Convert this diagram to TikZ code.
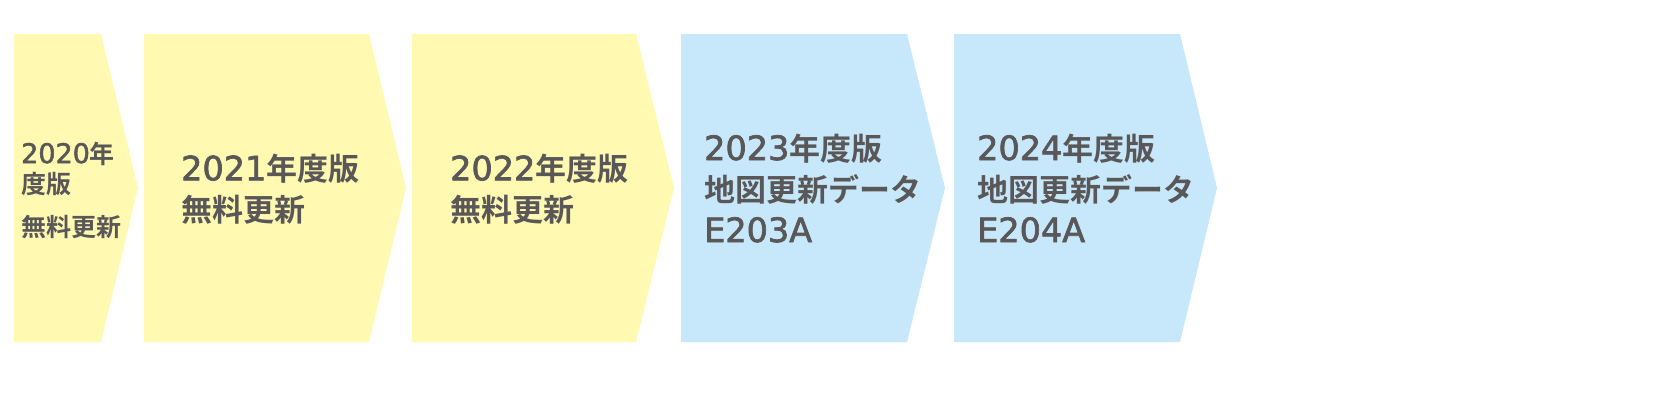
\documentclass[tikz,border=0pt]{standalone}
\usepackage{fontspec}
\setmainfont{DejaVu Sans}[Scale=1.08,UprightFeatures={FakeBold=2}]
\newfontfamily\jpfont{Noto Sans CJK JP}[UprightFont=* Bold]
\definecolor{stepyellow}{RGB}{255,249,178}
\definecolor{stepblue}{RGB}{199,232,250}
\definecolor{steptext}{RGB}{89,87,87}
\tikzset{
	yellowarrow/.style={fill=stepyellow},
	bluearrow/.style={fill=stepblue},
	steplabel/.style={anchor=west,align=left,inner sep=0pt,text=steptext,font=\fontsize{31}{41}\selectfont},
	smalllabel/.style={steplabel,font=\fontsize{25}{30}\selectfont}
}

\begin{document}
\begin{tikzpicture}[x=1pt,y=-1pt]
						\useasboundingbox (0,0) rectangle (1668,400);
						% yellow years
						\fill[yellowarrow] (14,34)--(101,34)--(138,188)--(101,342)--(14,342)--cycle;
						\fill[yellowarrow] (144,34)--(369,34)--(406,188)--(369,342)--(144,342)--cycle;
						\fill[yellowarrow] (412,34)--(636,34)--(674,188)--(636,342)--(412,342)--cycle;
						% blue years
						\fill[bluearrow] (681,34)--(907,34)--(945,188)--(907,342)--(681,342)--cycle;
						\fill[bluearrow] (954,34)--(1180,34)--(1217,188)--(1180,342)--(954,342)--cycle;
						% labels
						\node[smalllabel] (y2020) at (21,190) {2020{\jpfont 年}\\{\jpfont 度版}\\[13pt]{\jpfont 無料更新}};
						\node[steplabel] (y2021) at (181,189) {2021{\jpfont 年度版}\\{\jpfont 無料更新}};
						\node[steplabel] (y2022) at (450,189) {2022{\jpfont 年度版}\\{\jpfont 無料更新}};
						\node[steplabel] (y2023) at (704,188) {2023{\jpfont 年度版}\\{\jpfont 地図更新データ}\\E203A};
						\node[steplabel] (y2024) at (977,188) {2024{\jpfont 年度版}\\{\jpfont 地図更新データ}\\E204A};
					\end{tikzpicture}
\end{document}
